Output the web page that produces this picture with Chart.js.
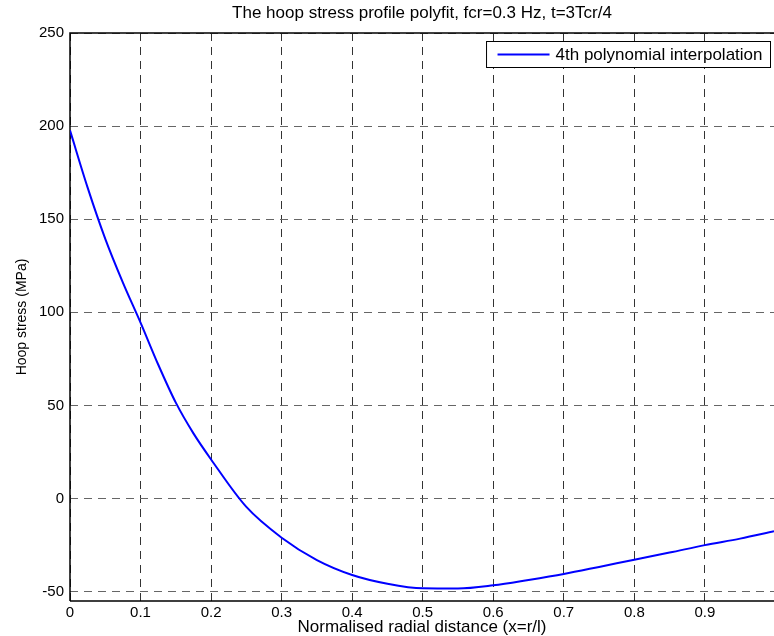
<!DOCTYPE html>
<html>
<head>
<meta charset="utf-8">
<script src="https://cdn.jsdelivr.net/npm/chart.js@4.4.1/dist/chart.umd.min.js"></script>
<style>
  html, body { margin: 0; padding: 0; background: #fff; }
  #wrap { width: 774px; height: 636px; }
</style>
</head>
<body>
<div id="wrap"><canvas id="hoop" width="774" height="636"></canvas></div>
<script>
// values
const radialX = [0, 0.025, 0.05, 0.075, 0.1, 0.125, 0.15, 0.175, 0.2, 0.25, 0.3, 0.35, 0.4,
  0.45, 0.5, 0.55, 0.6, 0.65, 0.7, 0.75, 0.8, 0.85, 0.9, 0.95, 0.998]
const hoopStress = [197.7, 167, 139.5, 116, 94.5, 72, 51.5, 35, 21, -4.5, -21, -33, -41,
  -45.7, -48.2, -48.3, -46.6, -43.7, -40.5, -36.7, -32.8, -29, -25, -21.5, -17.6]
const seriesLabel = '4th polynomial interpolation'
const chartTitle = 'The hoop stress profile polyfit, fcr=0.3 Hz, t=3Tcr/4'
const xTicks = [0, 0.1, 0.2, 0.3, 0.4, 0.5, 0.6, 0.7, 0.8, 0.9]
const yTicks = [-50, 0, 50, 100, 150, 200, 250]

const FONT = 'Liberation Sans, Arial, Helvetica, sans-serif'

// matlab style: title centred over the axes, frame on top/left/bottom, boxed legend
const framePlugin = {
  id: 'frame',
  beforeDatasetsDraw(chart) {
    const { ctx, chartArea: a } = chart
    ctx.save()
    ctx.strokeStyle = '#000'
    ctx.lineWidth = 1.5
    ctx.beginPath()
    ctx.moveTo(a.left, a.bottom)
    ctx.lineTo(a.left, a.top)
    ctx.lineTo(a.right, a.top)
    ctx.moveTo(a.left, a.bottom)
    ctx.lineTo(a.right, a.bottom)
    ctx.stroke()

    ctx.fillStyle = '#000'
    ctx.font = '17px ' + FONT
    ctx.textAlign = 'center'
    ctx.textBaseline = 'middle'
    ctx.fillText(chartTitle, (a.left + a.right) / 2, 13)

    // legend box
    const ds = chart.data.datasets[0]
    const tw = ctx.measureText(ds.label).width
    const w = 11 + 52 + 6 + tw + 8
    const h = 26
    const x = a.right - 3.5 - w
    const y = a.top + 8.5
    ctx.fillStyle = '#fff'
    ctx.fillRect(x, y, w, h)
    ctx.lineWidth = 1
    ctx.strokeStyle = '#000'
    ctx.strokeRect(x, y, w, h)
    ctx.strokeStyle = ds.borderColor
    ctx.lineWidth = 2
    ctx.beginPath()
    ctx.moveTo(x + 11, y + h / 2)
    ctx.lineTo(x + 63, y + h / 2)
    ctx.stroke()
    ctx.fillStyle = '#000'
    ctx.textAlign = 'left'
    ctx.fillText(ds.label, x + 69, y + h / 2 + 0.5)
    ctx.restore()
  }
}

const points = radialX.map((x, i) => ({ x: x, y: hoopStress[i] }))

new Chart(document.getElementById('hoop'), {
  type: 'line',
  data: {
    datasets: [{
      label: seriesLabel,
      data: points,
      borderColor: '#0000ff',
      borderWidth: 2,
      pointRadius: 0,
      cubicInterpolationMode: 'monotone',
      fill: false
    }]
  },
  options: {
    responsive: false,
    animation: false,
    layout: { padding: { top: 33, left: 0, right: 0, bottom: 0 } },
    plugins: {
      legend: { display: false },
      tooltip: { enabled: false },
      title: { display: false }
    },
    scales: {
      x: {
        type: 'linear',
        min: 0,
        max: 0.998,
        afterFit(scale) { scale.height = 35 },
        afterBuildTicks(scale) { scale.ticks = xTicks.map(v => ({ value: v })) },
        ticks: {
          color: '#000',
          padding: 3,
          maxRotation: 0,
          font: { family: FONT, size: 15 },
          callback: v => String(Math.round(v * 10) / 10)
        },
        grid: { color: '#333', drawTicks: false },
        border: { display: false, dash: [8, 6] },
        title: {
          display: true,
          text: 'Normalised radial distance (x=r/l)',
          color: '#000',
          font: { family: FONT, size: 17, lineHeight: 1 },
          padding: { top: 0, bottom: 0 }
        }
      },
      y: {
        min: -55,
        max: 250,
        afterFit(scale) { scale.width = 70 },
        afterBuildTicks(scale) { scale.ticks = yTicks.map(v => ({ value: v })) },
        ticks: {
          color: '#000',
          padding: 6,
          font: { family: FONT, size: 15 }
        },
        grid: { color: '#666', drawTicks: false },
        border: { display: false, dash: [8, 6] },
        title: {
          display: true,
          text: 'Hoop stress (MPa)',
          color: '#000',
          font: { family: FONT, size: 14, lineHeight: 1 },
          padding: { top: 15, bottom: 0 }
        }
      }
    }
  },
  plugins: [framePlugin]
})
</script>
</body>
</html>
